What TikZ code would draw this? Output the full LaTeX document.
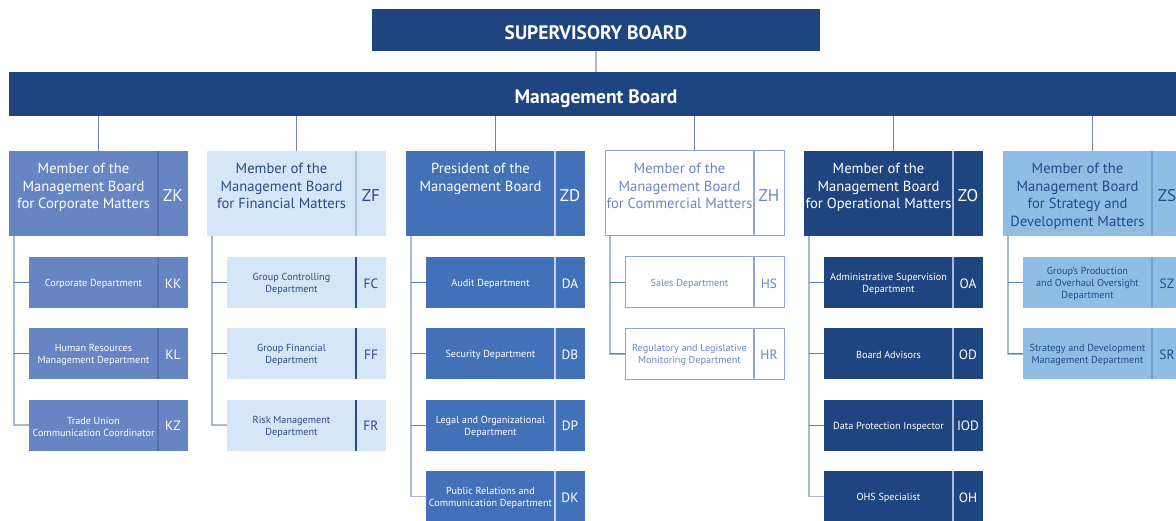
\documentclass[tikz,border=0pt]{standalone}
\usepackage{fontspec}
\setmainfont{PT Sans}
\definecolor{navy}{HTML}{1F4581}
\definecolor{cAfill}{HTML}{6784C3}\definecolor{cAdiv}{HTML}{5570AD}
\definecolor{cBfill}{HTML}{D5E6F6}\definecolor{cBtxt}{HTML}{2C4B82}\definecolor{cBdiv}{HTML}{A9C3DF}
\definecolor{cCfill}{HTML}{4371B8}\definecolor{cCdiv}{HTML}{C3D2EC}
\definecolor{cDline}{HTML}{8FA6D6}\definecolor{cDtxt}{HTML}{6B88C5}
\definecolor{cEdiv}{HTML}{A9B9D8}
\definecolor{cFfill}{HTML}{8FBDE4}\definecolor{cFtxt}{HTML}{28498A}\definecolor{cFdiv}{HTML}{6FA2D2}
\definecolor{vline}{HTML}{AAB8D4}\definecolor{hline}{HTML}{5D7BB5}\definecolor{topline}{HTML}{6E83B0}
\tikzset{
  board/.style={fill=navy,draw=none,inner sep=0,outer sep=0},
  boardtxt/.style={text=white,font=\fontsize{19.5}{22}\selectfont\bfseries,inner sep=0,anchor=base},
  hbox/.style={minimum width=179pt,minimum height=85pt,inner sep=0,outer sep=0},
  sbox/.style={minimum width=159pt,minimum height=51pt,inner sep=0,outer sep=0},
  htext/.style={font=\fontsize{14.6}{17.5}\selectfont,align=center,inner sep=0,anchor=north},
  hcode/.style={font=\fontsize{17}{20}\selectfont,inner sep=0},
  stext/.style={font=\fontsize{10.2}{12}\selectfont,align=center,inner sep=0},
  scode/.style={font=\fontsize{13.5}{15}\selectfont,inner sep=0},
  colA/.style={fill=cAfill,draw=none}, colAdiv/.style={draw=cAdiv}, colAsdiv/.style={draw=cAdiv}, colAtxt/.style={text=white},
  colB/.style={fill=cBfill,draw=none}, colBdiv/.style={draw=cBdiv}, colBsdiv/.style={draw=cBtxt}, colBtxt/.style={text=cBtxt},
  colC/.style={fill=cCfill,draw=none}, colCdiv/.style={draw=cCdiv}, colCsdiv/.style={draw=cCdiv}, colCtxt/.style={text=white},
  colD/.style={fill=white,draw=cDline,line width=1pt}, colDdiv/.style={draw=cDline}, colDsdiv/.style={draw=cDline}, colDtxt/.style={text=cDtxt},
  colE/.style={fill=navy,draw=none}, colEdiv/.style={draw=cEdiv}, colEsdiv/.style={draw=cEdiv}, colEtxt/.style={text=white},
  colF/.style={fill=cFfill,draw=none}, colFdiv/.style={draw=cFdiv}, colFsdiv/.style={draw=cFdiv}, colFtxt/.style={text=cFtxt},
  topconn/.style={draw=topline,line width=1pt},
  vconn/.style={draw=vline,line width=1.5pt},
  hconn/.style={draw=hline,line width=1.2pt},
}
% #1 name, #2 left x, #3 column style, #4 text, #5 code
\newcommand\orghead[5]{%
  \node[hbox,#3,anchor=north west] (#1) at (#2,151) {};
  \draw[#3div,line width=1.3pt] ([xshift=149pt]#1.north west) -- ([xshift=149pt]#1.south west);
  \node[htext,#3txt] (#1t) at ([xshift=74.5pt,yshift=-12pt]#1.north west) {#4};
  \node[hcode,#3txt] (#1c) at ([xshift=164pt,yshift=-2pt]#1.west) {#5};
  \coordinate (#1v) at ([xshift=5pt]#1.south west);
}
% #1 name, #2 left x, #3 top y, #4 column style, #5 text, #6 code
\newcommand\orgsub[6]{%
  \node[sbox,#4,anchor=north west] (#1) at (#2,#3) {};
  \draw[#4sdiv,line width=1.3pt] ([xshift=129pt]#1.north west) -- ([xshift=129pt]#1.south west);
  \node[stext,#4txt] (#1t) at ([xshift=64.5pt,yshift=-1.5pt]#1.west) {#5};
  \node[scode,#4txt] (#1c) at ([xshift=144pt,yshift=-1pt]#1.west) {#6};
}
\begin{document}
\begin{tikzpicture}[x=1pt,y=-1pt]
\useasboundingbox (0,0) rectangle (1176,521);
% boards
\node[board,minimum width=448pt,minimum height=42pt] (sb) at (596,30) {};
\node[boardtxt] (sbt) at (596,39.5) {SUPERVISORY BOARD};
\node[board,minimum width=1174pt,minimum height=44pt] (mb) at (596,94) {};
\node[boardtxt] (mbt) at (596,103.5) {Management Board};
\draw[draw=vline,line width=1.6pt] (sb.south) -- (mb.north);
% heads
\orghead{zk}{9}{colA}{Member of the\\Management Board\\for Corporate Matters}{ZK}
\orghead{zf}{207}{colB}{Member of the\\Management Board\\for Financial Matters}{ZF}
\orghead{zd}{406}{colC}{President of the\\Management Board}{ZD}
\orghead{zh}{605}{colD}{Member of the\\Management Board\\for Commercial Matters}{ZH}
\orghead{zo}{804}{colE}{Member of the\\Management Board\\for Operational Matters}{ZO}
\orghead{zs}{1003}{colF}{Member of the\\Management Board\\for Strategy and\\Development Matters}{ZS}
\foreach \h in {zk,zf,zd,zh,zo,zs}{\draw[topconn] (mb.south -| \h.north) -- (\h.north);}
% column 1
\orgsub{kk}{29}{257}{colA}{Corporate Department}{KK}
\orgsub{kl}{29}{328.3}{colA}{Human Resources\\Management Department}{KL}
\orgsub{kz}{29}{399.7}{colA}{Trade Union\\Communication Coordinator}{KZ}
% column 2
\orgsub{fc}{227}{257}{colB}{Group Controlling\\Department}{FC}
\orgsub{ff}{227}{328.3}{colB}{Group Financial\\Department}{FF}
\orgsub{fr}{227}{399.7}{colB}{Risk Management\\Department}{FR}
% column 3
\orgsub{da}{426}{257}{colC}{Audit Department}{DA}
\orgsub{db}{426}{328.3}{colC}{Security Department}{DB}
\orgsub{dp}{426}{399.7}{colC}{Legal and Organizational\\Department}{DP}
\orgsub{dk}{426}{471}{colC}{Public Relations and\\Communication Department}{DK}
% column 4
\orgsub{hs}{625}{257}{colD}{Sales Department}{HS}
\orgsub{hr}{625}{328.3}{colD}{Regulatory and Legislative\\Monitoring Department}{HR}
% column 5
\orgsub{oa}{824}{257}{colE}{Administrative Supervision\\Department}{OA}
\orgsub{od}{824}{328.3}{colE}{Board Advisors}{OD}
\orgsub{iod}{824}{399.7}{colE}{Data Protection Inspector}{IOD}
\orgsub{oh}{824}{471}{colE}{OHS Specialist}{OH}
% column 6
\orgsub{sz}{1023}{257}{colF}{Group's Production\\and Overhaul Oversight\\Department}{SZ}
\orgsub{sr}{1023}{328.3}{colF}{Strategy and Development\\Management Department}{SR}
% connectors head -> departments
\draw[vconn] (zkv) |- (kz.west);
\draw[hconn] (kk.west -| zkv) -- (kk.west);
\draw[hconn] (kl.west -| zkv) -- (kl.west);
\draw[vconn] (zfv) |- (fr.west);
\draw[hconn] (fc.west -| zfv) -- (fc.west);
\draw[hconn] (ff.west -| zfv) -- (ff.west);
\draw[vconn] (zdv) |- (dk.west);
\draw[hconn] (da.west -| zdv) -- (da.west);
\draw[hconn] (db.west -| zdv) -- (db.west);
\draw[hconn] (dp.west -| zdv) -- (dp.west);
\draw[vconn] (zhv) |- (hr.west);
\draw[hconn] (hs.west -| zhv) -- (hs.west);
\draw[hconn] (hr.west -| zhv) -- (hr.west);
\draw[vconn] (zov) |- (oh.west);
\draw[hconn] (oa.west -| zov) -- (oa.west);
\draw[hconn] (od.west -| zov) -- (od.west);
\draw[hconn] (iod.west -| zov) -- (iod.west);
\draw[vconn] (zsv) |- (sr.west);
\draw[hconn] (sz.west -| zsv) -- (sz.west);
\draw[hconn] (sr.west -| zsv) -- (sr.west);
\end{tikzpicture}
\end{document}
